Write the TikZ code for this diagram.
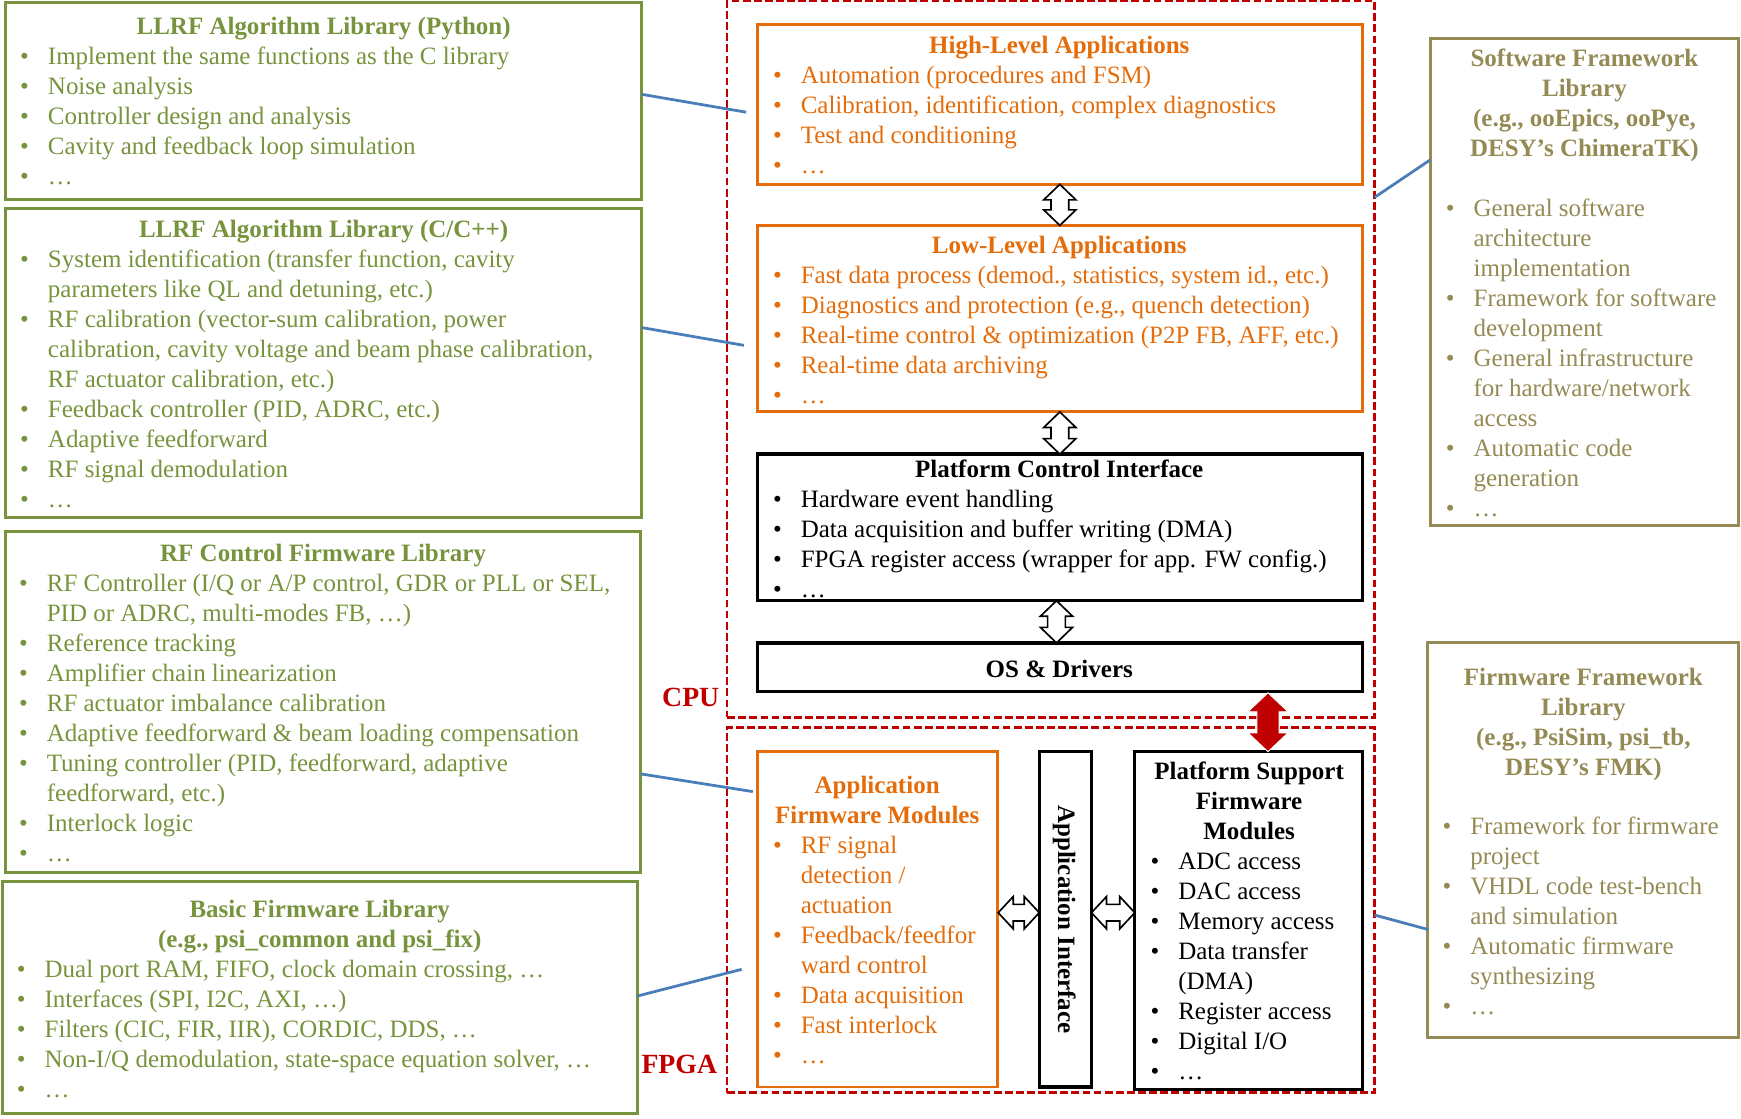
\documentclass[tikz,border=0pt]{standalone}
\usepackage{fontspec}
\setmainfont{Liberation Serif}
\usetikzlibrary{calc}
\definecolor{cgreen}{HTML}{77933C}
\definecolor{corange}{HTML}{E46C0A}
\definecolor{ckhaki}{HTML}{948A54}
\definecolor{cred}{HTML}{C00000}
\definecolor{cblue}{HTML}{4A7EBB}
\newcommand\itb{\makebox[0pt][r]{\makebox[25pt][l]{\textbullet}}}
\newcommand\fsz{\fontsize{22.5}{27}\selectfont}
\newcommand\linesat[5]{\foreach \itemtext [count=\i] in {#5} {\node[#2] (#1\i) at (#3,{#4+1+27*(\i-1)}) {\itemtext};}}
\newcommand\vdarr[6]{\draw[#1] (#2) -- ($(#2)+(#4,#6)$) -- ($(#2)+(#5,#6)$) -- ($(#3)+(#5,-#6)$) -- ($(#3)+(#4,-#6)$) -- (#3) -- ($(#3)+(-#4,-#6)$) -- ($(#3)+(-#5,-#6)$) -- ($(#2)+(-#5,#6)$) -- ($(#2)+(-#4,#6)$) -- cycle;}
\newcommand\hdarr[6]{\draw[#1] (#2) -- ($(#2)+(#6,-#4)$) -- ($(#2)+(#6,-#5)$) -- ($(#3)+(-#6,-#5)$) -- ($(#3)+(-#6,-#4)$) -- (#3) -- ($(#3)+(-#6,#4)$) -- ($(#3)+(-#6,#5)$) -- ($(#2)+(#6,#5)$) -- ($(#2)+(#6,#4)$) -- cycle;}
\tikzset{
  bx/.style={draw, inner sep=0pt, outer sep=0pt, anchor=north west},
  gbox/.style={bx, draw=cgreen, line width=2.8pt},
  obox/.style={bx, draw=corange, line width=2.6pt},
  kbox/.style={bx, draw=black, line width=3pt},
  hbox/.style={bx, draw=ckhaki, line width=2.8pt},
  rbox/.style={bx, draw=cred, line width=2.2pt, dash pattern=on 7pt off 3pt},
  itm/.style={anchor=base west, inner sep=0pt, font=\fsz},
  ttl/.style={anchor=base, inner sep=0pt, font=\fsz\bfseries},
  conn/.style={draw=cblue, line width=2.5pt},
  openarr/.style={draw=black, fill=white, line width=1.5pt, line join=miter},
  redarr/.style={draw=white, fill=cred, line width=0.8pt, line join=miter}
}
\begin{document}
\begin{tikzpicture}[x=1pt, y=-1pt]
\useasboundingbox (0,0) rectangle (1568,1007);
% CPU / FPGA regions
\node[rbox, minimum width=583pt, minimum height=645pt] (cpu) at (655,1) {};
\node[rbox, minimum width=583pt, minimum height=329pt] (fpga) at (655,655) {};
\node[anchor=base east, inner sep=0pt, font=\fontsize{25}{30}\selectfont\bfseries, text=cred] (cpuL) at (648,636) {CPU};
\node[anchor=base east, inner sep=0pt, font=\fontsize{25}{30}\selectfont\bfseries, text=cred] (fpgaL) at (646,967) {FPGA};
% left library boxes
\node[gbox, minimum width=573pt, minimum height=178pt] (py) at (5,2) {};
\node[gbox, minimum width=573pt, minimum height=278pt] (cb) at (5,188) {};
\node[gbox, minimum width=572pt, minimum height=307pt] (rf) at (5,479) {};
\node[gbox, minimum width=572pt, minimum height=209pt] (bf) at (2,794) {};
% CPU boxes
\node[obox, minimum width=545pt, minimum height=144pt] (hl) at (682,22) {};
\node[obox, minimum width=545pt, minimum height=168pt] (ll) at (682,203) {};
\node[kbox, minimum width=545pt, minimum height=132pt] (pci) at (682,409) {};
\node[kbox, minimum width=545pt, minimum height=44pt] (os) at (682,579) {};
% FPGA boxes
\node[obox, minimum width=216pt, minimum height=302pt] (af) at (682,677) {};
\node[kbox, minimum width=47pt, minimum height=302pt] (ai) at (936,677) {};
\node[kbox, minimum width=205pt, minimum height=304pt] (ps) at (1022,677) {};
% right framework boxes
\node[hbox, minimum width=278pt, minimum height=438pt] (sw) at (1288,35) {};
\node[hbox, minimum width=280pt, minimum height=355pt] (fw) at (1286,579) {};

% red arrow between CPU and FPGA
\coordinate (rt) at ($(os.south east)+(-85,1)$);
\coordinate (rb) at ($(ps.north east)+(-85,0)$);
\vdarr{redarr}{rt}{rb}{18}{10}{17}

% open arrows
\vdarr{openarr}{hl.south}{ll.north}{14.5}{8}{14}
\vdarr{openarr}{ll.south}{pci.north}{14.5}{8}{14}
\coordinate (a3t) at ($(pci.south)+(-3,0)$);
\coordinate (a3b) at ($(os.north)+(-3,0)$);
\vdarr{openarr}{a3t}{a3b}{14.5}{8}{14}
\coordinate (h1l) at ($(af.east)+(1,-6)$);
\coordinate (h1r) at ($(ai.west)+(0,-6)$);
\coordinate (h2l) at ($(ai.east)+(0,-6)$);
\coordinate (h2r) at ($(ps.west)+(0,-7)$);
\hdarr{openarr}{h1l}{h1r}{14.5}{7.5}{13.5}
\hdarr{openarr}{h2l}{h2r}{14.5}{7.5}{13.5}

% blue connectors
\coordinate (e1) at ($(hl.north west)!0.549!(hl.south west)+(-10,0)$);
\coordinate (e2) at ($(ll.north west)!0.643!(ll.south west)+(-12,0)$);
\coordinate (e3) at ($(af.north west)!0.119!(af.south west)+(-4,0)$);
\coordinate (e4) at ($(af.north west)!0.649!(af.south west)+(-14,0)$);
\draw[conn] ($(py.north east)!0.466!(py.south east)$) -- (e1);
\draw[conn] ($(cb.north east)!0.385!(cb.south east)$) -- (e2);
\draw[conn] ($(rf.north east)!0.710!(rf.south east)$) -- (e3);
\draw[conn] ($(bf.north east)!0.493!(bf.south east)$) -- (e4);
\draw[conn] ($(cpu.north east)!0.274!(cpu.south east)$) -- ($(sw.north west)!0.249!(sw.south west)$);
\draw[conn] ($(fpga.north east)!0.514!(fpga.south east)$) -- ($(fw.north west)!0.727!(fw.south west)$);

% texts: Python library
\begin{scope}[text=cgreen]
\node[ttl] (pyT) at (291.5,31) {LLRF Algorithm Library (Python)};
\linesat{pyL}{itm}{43}{57}{{\itb Implement the same functions as the C library},{\itb Noise analysis},{\itb Controller design and analysis},{\itb Cavity and feedback loop simulation},{\itb …}}
\node[ttl] (cbT) at (291.5,214) {LLRF Algorithm Library (C/C++)};
\linesat{cbL}{itm}{43}{240}{{\itb System identification (transfer function, cavity},{parameters like QL and detuning, etc.)},{\itb RF calibration (vector-sum calibration, power},{calibration, cavity voltage and beam phase calibration,},{RF actuator calibration, etc.)},{\itb Feedback controller (PID, ADRC, etc.)},{\itb Adaptive feedforward},{\itb RF signal demodulation},{\itb …}}
\node[ttl] (rfT) at (291,506) {RF Control Firmware Library};
\linesat{rfL}{itm}{42}{532}{{\itb RF Controller (I/Q or A/P control, GDR or PLL or SEL,},{PID or ADRC, multi-modes FB, …)},{\itb Reference tracking},{\itb Amplifier chain linearization},{\itb RF actuator imbalance calibration},{\itb Adaptive feedforward \& beam loading compensation},{\itb Tuning controller (PID, feedforward, adaptive},{feedforward, etc.)},{\itb Interlock logic},{\itb …}}
\linesat{bfT}{ttl}{288}{825}{{Basic Firmware Library},{(e.g., psi\_common and psi\_fix)}}
\linesat{bfL}{itm}{40}{879}{{\itb Dual port RAM, FIFO, clock domain crossing, …},{\itb Interfaces (SPI, I2C, AXI, …)},{\itb Filters (CIC, FIR, IIR), CORDIC, DDS, …},{\itb Non-I/Q demodulation, state-space equation solver, …},{\itb …}}
\end{scope}

% CPU texts
\begin{scope}[text=corange]
\node[ttl] (hlT) at (954,48) {High-Level Applications};
\linesat{hlL}{itm}{721}{74}{{\itb Automation (procedures and FSM)},{\itb Calibration, identification, complex diagnostics},{\itb Test and conditioning},{\itb …}}
\node[ttl] (llT) at (954,228) {Low-Level Applications};
\linesat{llL}{itm}{721}{254}{{\itb Fast data process (demod., statistics, system id., etc.)},{\itb Diagnostics and protection (e.g., quench detection)},{\itb Real-time control \& optimization (P2P FB, AFF, etc.)},{\itb Real-time data archiving},{\itb …}}
\linesat{afT}{ttl}{790}{714}{{Application},{Firmware Modules}}
\linesat{afL}{itm}{721}{768}{{\itb RF signal},{detection /},{actuation},{\itb Feedback/feedfor},{ward control},{\itb Data acquisition},{\itb Fast interlock},{\itb …}}
\end{scope}

\node[ttl] (pciT) at (954,430) {Platform Control Interface};
\linesat{pciL}{itm}{721}{456}{{\itb Hardware event handling},{\itb Data acquisition and buffer writing (DMA)},{\itb FPGA register access (wrapper for app. FW config.)},{\itb …}}
\node[ttl] (osT) at (954,610) {OS \& Drivers};
\node[inner sep=0pt, font=\fsz\bfseries, rotate=-90, anchor=center] (aiT) at ($(ai.center)+(-1,0)$) {Application Interface};
\linesat{psT}{ttl}{1125}{701}{{Platform Support},{Firmware},{Modules}}
\linesat{psL}{itm}{1061}{782}{{\itb ADC access},{\itb DAC access},{\itb Memory access},{\itb Data transfer},{(DMA)},{\itb Register access},{\itb Digital I/O},{\itb …}}

% framework texts
\begin{scope}[text=ckhaki]
\linesat{swT}{ttl}{1427}{59}{{Software Framework},{Library},{(e.g., ooEpics, ooPye,},{DESY’s ChimeraTK)}}
\linesat{swL}{itm}{1327}{194}{{\itb General software},{architecture},{implementation},{\itb Framework for software},{development},{\itb General infrastructure},{for hardware/network},{access},{\itb Automatic code},{generation},{\itb …}}
\linesat{fwT}{ttl}{1426}{616}{{Firmware Framework},{Library},{(e.g., PsiSim, psi\_tb,},{DESY’s FMK)}}
\linesat{fwL}{itm}{1324}{751}{{\itb Framework for firmware},{project},{\itb VHDL code test-bench},{and simulation},{\itb Automatic firmware},{synthesizing},{\itb …}}
\end{scope}
\end{tikzpicture}
\end{document}
